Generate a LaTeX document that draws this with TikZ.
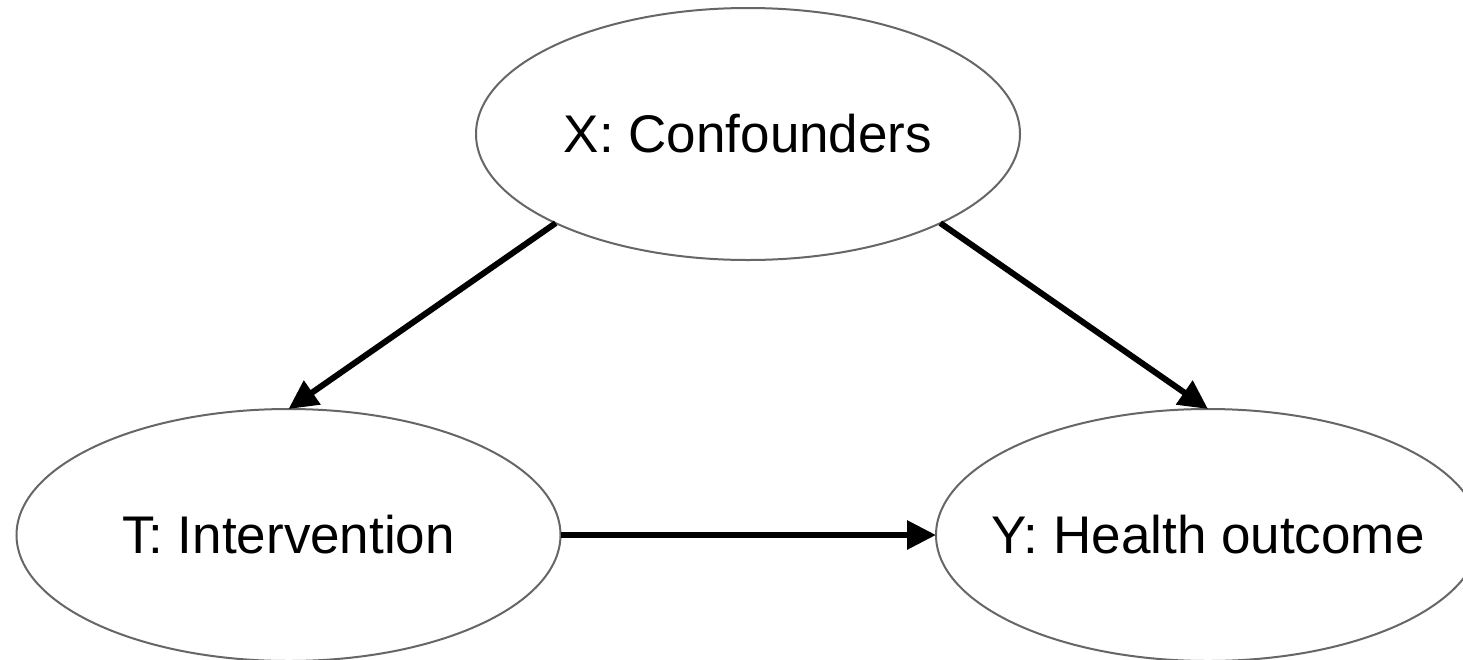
\documentclass[tikz,border=0pt]{standalone}
\usepackage{fontspec}
\setmainfont{Liberation Sans}
\usetikzlibrary{arrows.meta,shapes.geometric}
\definecolor{rimgray}{RGB}{102,102,102}
% zero-width label box so every ellipse keeps the same fixed size
\newcommand{\varlabel}[1]{\makebox[0pt]{#1}}
\tikzset{
  var/.style={ellipse, draw=rimgray, line width=2pt, fill=white,
    minimum width=544pt, minimum height=252pt, inner sep=0pt, outer sep=0pt,
    font=\fontsize{53}{60}\selectfont},
  edge/.style={line width=6pt, -{Triangle[length=29pt, width=28pt]}}
}
\begin{document}
\begin{tikzpicture}[x=1pt, y=1pt]
  \useasboundingbox (0,0) rectangle (1463,-659);
  % causal graph: confounders, treatment and outcome
  \node[var] (X) at (748,-134) {\varlabel{X: Confounders}};
  \node[var] (T) at (288.5,-535) {\varlabel{T: Intervention}};
  \node[var] (Y) at (1208,-535) {\varlabel{Y: Health outcome}};
  \draw[edge] (X.south west) -- (T.north);
  \draw[edge] (X.south east) -- (Y.north);
  \draw[edge] (T.east) -- (Y.west);
\end{tikzpicture}
\end{document}
